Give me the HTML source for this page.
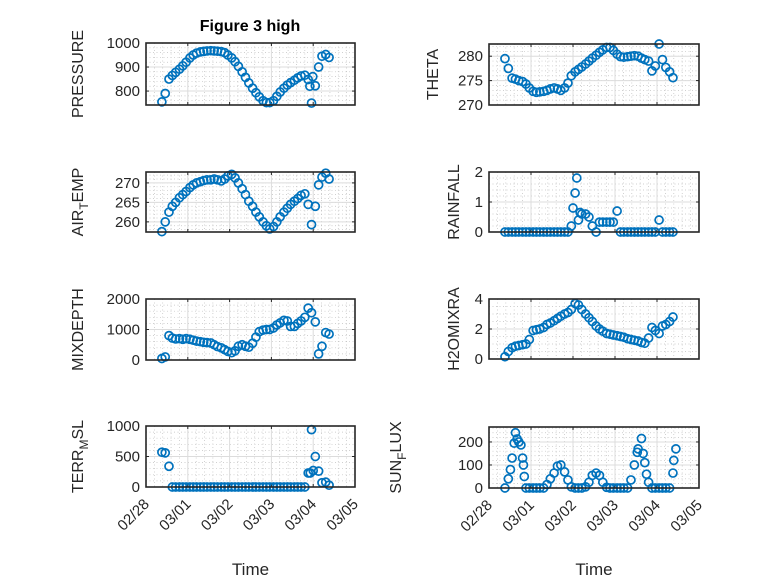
<!DOCTYPE html>
<html><head><meta charset="utf-8">
<style>
html,body{margin:0;padding:0;background:#fff;}
svg{display:block;font-family:"Liberation Sans",sans-serif;}
</style></head>
<body>
<svg id="fig" width="778" height="583" viewBox="0 0 778 583" xmlns="http://www.w3.org/2000/svg">
<rect x="0" y="0" width="778" height="583" fill="#fff"/>
<text x="250" y="31" text-anchor="middle" font-size="16" font-weight="bold" fill="#000">Figure 3 high</text>
</svg>
<script>
const times = [0.38,0.46,0.55,0.63,0.71,0.80,0.88,0.96,1.05,1.13,1.21,1.30,1.38,1.46,1.55,1.63,1.71,1.80,1.88,1.96,2.05,2.13,2.21,2.30,2.38,2.46,2.55,2.63,2.71,2.80,2.88,2.96,3.05,3.13,3.21,3.30,3.38,3.46,3.55,3.63,3.71,3.80,3.88,3.96,4.05,4.13,4.21,4.30,4.38];
const xTickLabels = ["02/28","03/01","03/02","03/03","03/04","03/05"];
const pressure = [755,790,850,865,878,891,905,920,938,950,958,963,965,967,968,967,966,964,960,950,938,922,903,880,857,834,812,793,776,760,752,752,760,778,796,812,825,835,845,855,863,866,848,750,822,900,945,952,940];
const airTemp = [257.5,260,262.5,264,265,266.2,267,267.8,268.8,269.5,270,270.3,270.6,270.8,270.8,271,270.8,270.5,271,271.8,272.2,271.3,270,268.5,267,265.3,264,262.5,261.3,260,259,258.2,258.8,260,261.3,262.5,263.5,264.5,265.3,266,266.8,267.2,264.5,259.3,264,269.5,271.5,272.5,271];
const mixDepth = [50,100,800,720,690,700,680,700,680,650,620,600,580,570,560,500,440,400,340,280,240,300,450,500,450,420,550,750,930,980,1000,1000,1050,1150,1220,1300,1280,1100,1100,1200,1280,1400,1700,1550,1250,200,450,900,850];
const terrMsl = [570,560,340,0,0,0,0,0,0,0,0,0,0,0,0,0,0,0,0,0,0,0,0,0,0,0,0,0,0,0,0,0,0,0,0,0,0,0,0,0,0,0,230,940,500,260,70,80,30];
const theta = [279.5,277.5,275.5,275.3,275,274.8,274.3,273.5,272.8,272.6,272.7,272.8,273,273.3,273.5,273.3,273,273.5,274.5,276,276.8,277.3,277.8,278.4,279,279.6,280.2,280.8,281.3,281.8,281.8,281.2,280.4,279.9,279.8,279.9,280,280.1,280,279.6,279.3,279,277,278,282.5,279.3,277.7,276.8,275.6];
const rainfall = [0,0,0,0,0,0,0,0,0,0,0,0,0,0,0,0,0,0,0,0.2,1.3,0.4,0.6,0.6,0.5,0.2,0,0.33,0.33,0.33,0.33,0.33,0.7,0,0,0,0,0,0,0,0,0,0,0,0.4,0,0,0,0];
const rainExtraT = [2.0,2.09,2.17];
const rainExtraV = [0.8,1.8,0.65];
const h2o = [0.15,0.5,0.75,0.85,0.9,0.95,1.0,1.3,1.9,1.95,2.0,2.1,2.3,2.4,2.55,2.7,2.85,3.0,3.1,3.3,3.7,3.6,3.3,3.0,2.75,2.5,2.2,2.0,1.85,1.7,1.65,1.6,1.55,1.5,1.45,1.35,1.3,1.25,1.2,1.1,1.05,1.4,2.1,1.9,1.7,2.2,2.3,2.5,2.8];
const sunFlux = [0,40,130,240,200,130,0,0,0,0,0,0,15,40,65,95,100,70,35,5,0,0,0,5,25,55,65,55,25,3,0,0,0,0,0,0,35,100,170,215,110,25,0,0,0,0,0,0,65];
const sunExtraT = [0.51,0.60,0.67,0.76,0.82,0.84,3.53,3.67,3.75,4.40,4.45];
const sunExtraV = [80,195,213,187,100,50,155,150,60,120,170];
const terrExtraT = [3.93,4.0];
const terrExtraV = [230,270];
const pressExtraT = [3.92,3.99];
const pressExtraV = [820,860];

const SVGNS = "http://www.w3.org/2000/svg";
const svg = document.getElementById('fig');
const INK = "#262626";
const BLUE = "#0072BD";
function mk(tag, attrs, parent){
  const e = document.createElementNS(SVGNS, tag);
  for (const k in attrs) e.setAttribute(k, attrs[k]);
  (parent||svg).appendChild(e);
  return e;
}

const panels = [
  {name:"pressure", label:["PRESSURE"], x0:146,x1:355,y0:43,y1:105, ylim:[742,1000], yticks:[800,900,1000], ysub:20, vals:pressure, exT:pressExtraT, exV:pressExtraV, labX:83, xlabels:false},
  {name:"air-temp", label:["AIR","T","EMP"], x0:146,x1:355,y0:172,y1:232, ylim:[257.4,272.8], yticks:[260,265,270], ysub:1, vals:airTemp, exT:[], exV:[], labX:83, xlabels:false},
  {name:"mixdepth", label:["MIXDEPTH"], x0:146,x1:355,y0:299,y1:360, ylim:[0,2000], yticks:[0,1000,2000], ysub:200, vals:mixDepth, exT:[], exV:[], labX:83, xlabels:false},
  {name:"terr-msl", label:["TERR","M","SL"], x0:146,x1:355,y0:426,y1:487, ylim:[0,1000], yticks:[0,500,1000], ysub:100, vals:terrMsl, exT:terrExtraT, exV:terrExtraV, labX:83, xlabels:true},
  {name:"theta", label:["THETA"], x0:489,x1:699,y0:44,y1:105, ylim:[270,282.5], yticks:[270,275,280], ysub:1, vals:theta, exT:[], exV:[], labX:438, xlabels:false},
  {name:"rainfall", label:["RAINFALL"], x0:489,x1:699,y0:172,y1:232, ylim:[0,2], yticks:[0,1,2], ysub:0.2, vals:rainfall, exT:rainExtraT, exV:rainExtraV, labX:459, xlabels:false},
  {name:"h2omixra", label:["H2OMIXRA"], x0:489,x1:699,y0:299,y1:359, ylim:[0,4], yticks:[0,2,4], ysub:0.5, vals:h2o, exT:[], exV:[], labX:459, xlabels:false},
  {name:"sun-flux", label:["SUN","F","LUX"], x0:489,x1:699,y0:427,y1:488, ylim:[0,265], yticks:[0,100,200], ysub:20, vals:sunFlux, exT:sunExtraT, exV:sunExtraV, labX:401, xlabels:true}
];

panels.forEach(p => {
  const g = mk('g', {});
  
  
  const xs = t => p.x0 + (t/5)*(p.x1-p.x0);
  const ys = v => p.y1 - (v - p.ylim[0])/(p.ylim[1]-p.ylim[0])*(p.y1-p.y0);
  mk('rect', {x:p.x0,y:p.y0,width:p.x1-p.x0,height:p.y1-p.y0,fill:"#fff"}, g);
  for (let t=0.2; t<5; t+=0.2){
    if (Math.abs(t-Math.round(t))<0.01) continue;
    mk('line',{x1:xs(t),x2:xs(t),y1:p.y0,y2:p.y1,stroke:"#c0c0c0","stroke-width":0.7,"stroke-dasharray":"1,2.5"},g);
  }
  const start = Math.ceil(p.ylim[0]/p.ysub)*p.ysub;
  for (let v=start; v<p.ylim[1]; v+=p.ysub){
    mk('line',{x1:p.x0,x2:p.x1,y1:ys(v),y2:ys(v),stroke:"#c0c0c0","stroke-width":0.7,"stroke-dasharray":"1,2.5"},g);
  }
  for (let i=1;i<5;i++){
    mk('line',{x1:xs(i),x2:xs(i),y1:p.y0,y2:p.y1,stroke:"#dcdcdc","stroke-width":1},g);
  }
  p.yticks.forEach(v=>{
    mk('line',{x1:p.x0,x2:p.x1,y1:ys(v),y2:ys(v),stroke:"#dcdcdc","stroke-width":1},g);
    mk('line',{x1:p.x0,x2:p.x0+3,y1:ys(v),y2:ys(v),stroke:INK,"stroke-width":1},g);
    mk('line',{x1:p.x1,x2:p.x1-3,y1:ys(v),y2:ys(v),stroke:INK,"stroke-width":1},g);
    const tl = mk('text',{x:p.x0-6,y:ys(v)+5,"text-anchor":"end","font-size":15,fill:INK},g);
    tl.textContent = String(v);
    
    
  });
  for (let i=1;i<5;i++){
    mk('line',{x1:xs(i),x2:xs(i),y1:p.y1,y2:p.y1-3,stroke:INK,"stroke-width":1},g);
    mk('line',{x1:xs(i),x2:xs(i),y1:p.y0,y2:p.y0+3,stroke:INK,"stroke-width":1},g);
  }
  const pts = mk('g',{},g);
  
  
  const draw = (t,v)=>{
    const c = mk('circle',{cx:xs(t),cy:ys(v),r:4,fill:"none",stroke:BLUE,"stroke-width":1.7},pts);
    
    
  };
  times.forEach((t,i)=>draw(t,p.vals[i]));
  p.exT.forEach((t,i)=>draw(t,p.exV[i]));
  mk('rect',{x:p.x0,y:p.y0,width:p.x1-p.x0,height:p.y1-p.y0,fill:"none",stroke:INK,"stroke-width":1.6},g);
  const cy = (p.y0+p.y1)/2;
  const lab = mk('text',{x:p.labX,y:cy,"text-anchor":"middle","font-size":16,fill:INK,transform:`rotate(-90 ${p.labX} ${cy})`},g);
  
  
  if (p.label.length===1){ lab.textContent = p.label[0]; }
  else {
    const a = mk('tspan',{},lab); a.textContent = p.label[0];
    const b = mk('tspan',{"font-size":12,dy:5},lab); b.textContent = p.label[1];
    const c = mk('tspan',{dy:-5},lab); c.textContent = p.label[2];
  }
  if (p.xlabels){
    xTickLabels.forEach((s,i)=>{
      const x = xs(i), y = p.y1+12;
      const tl = mk('text',{x:x+4,y:y+6,"text-anchor":"end","font-size":15,fill:INK,transform:`rotate(-45 ${x+4} ${y+6})`},g);
      tl.textContent = s;
      
      
    });
    const xt = mk('text',{x:(p.x0+p.x1)/2,y:575,"text-anchor":"middle","font-size":17,fill:INK},g);
    xt.textContent = "Time";
    
    
  }
});
</script>
</body></html>
